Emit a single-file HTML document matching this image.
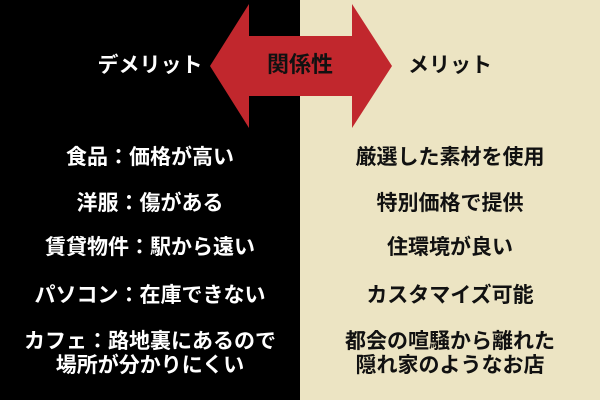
<!DOCTYPE html>
<html><head><meta charset="utf-8"><style>
body{margin:0;width:600px;height:400px;position:relative;overflow:hidden;font-family:"Liberation Sans","Noto Sans CJK JP",sans-serif;font-weight:bold}
.l{position:absolute;left:0;top:0;width:300px;height:400px;background:#000}
.r{position:absolute;left:300px;top:0;width:300px;height:400px;background:#ece4c3}
.t{position:absolute;width:300px;text-align:center;font-size:21px;line-height:24px;white-space:nowrap}
.w{color:#fff;left:0}.b{color:#111;left:300px}
</style></head><body>
<div class="l"></div><div class="r"></div>
<svg style="position:absolute;left:0;top:0" width="600" height="400"><polygon fill="#c1272d" points="210,66 249,4 249,36 352,36 352,4 392,66 352,128 352,96 249,96 249,128"/></svg>
<div class="t" style="left:150px;top:53px;color:#111;font-size:22px">関係性</div>
<div class="t w" style="top:54px">デメリット</div>
<div class="t b" style="top:54px">メリット</div>
<div class="t w" style="top:146px">食品：価格が高い</div>
<div class="t w" style="top:192px">洋服：傷がある</div>
<div class="t w" style="top:236px">賃貸物件：駅から遠い</div>
<div class="t w" style="top:284px">パソコン：在庫できない</div>
<div class="t w" style="top:330px">カフェ：路地裏にあるので<br>場所が分かりにくい</div>
<div class="t b" style="top:146px">厳選した素材を使用</div>
<div class="t b" style="top:192px">特別価格で提供</div>
<div class="t b" style="top:236px">住環境が良い</div>
<div class="t b" style="top:284px">カスタマイズ可能</div>
<div class="t b" style="top:330px">都会の喧騒から離れた<br>隠れ家のようなお店</div>
</body></html>
